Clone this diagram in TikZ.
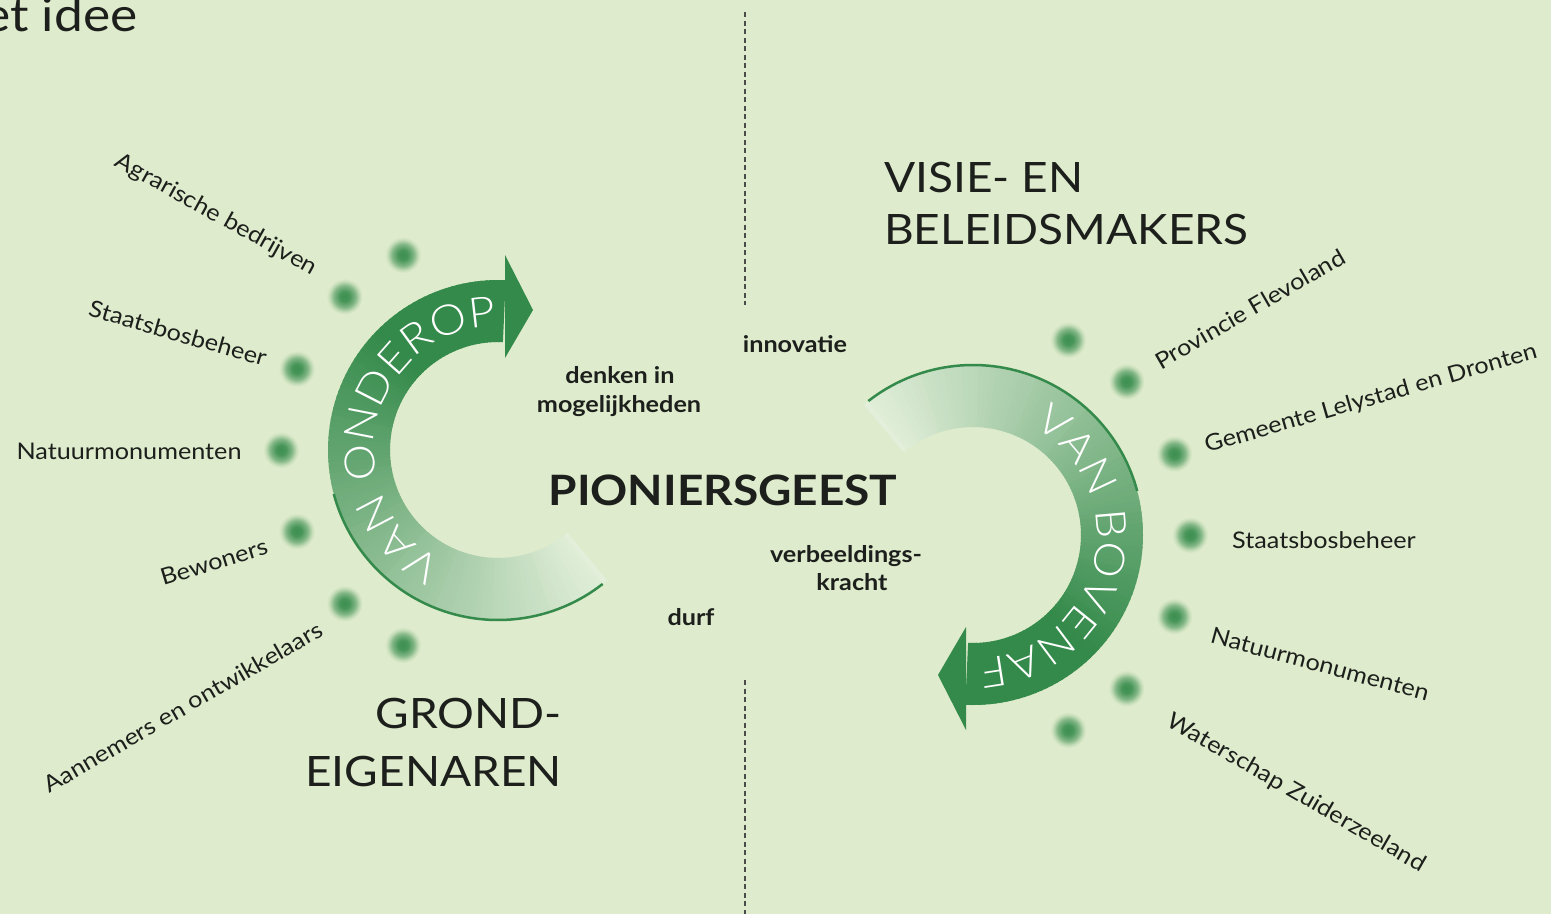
\documentclass[tikz,border=0pt]{standalone}
\usepackage{fontspec}
\setmainfont{Lato}[FakeStretch=1.1]
\newfontfamily\arcfont{Lato Light}[FakeStretch=1.1]
\usetikzlibrary{decorations.text}
\definecolor{bg}{RGB}{222,235,204}
\definecolor{bgl}{RGB}{234,243,224}
\definecolor{ag}{RGB}{52,138,74}
\definecolor{txt}{RGB}{28,31,27}
\pgfdeclareradialshading{blurdot}{\pgfpoint{0bp}{0bp}}{%
  color(0bp)=(ag!95!bg); color(7bp)=(ag!88!bg); color(15bp)=(ag!55!bg);
  color(21bp)=(ag!15!bg); color(25bp)=(bg); color(50bp)=(bg)}
\tikzset{
  lbl/.style={text=txt, inner sep=0pt, font=\fontsize{23}{27}\selectfont},
  kw/.style={text=txt, inner sep=0pt, font=\bfseries\fontsize{23}{27}\selectfont},
  ttl/.style={text=txt, inner sep=0pt, font=\fontsize{42}{48}\selectfont},
  sep/.style={draw=txt!80, line width=1.5bp, dash pattern=on 5bp off 3.5bp},
  gdot/.style={shading=blurdot},
  cyclearrow/.pic={
    \foreach \a in {50,52,...,270}{
      \pgfmathtruncatemacro\p{min(100,max(0,6+(\a-52)*0.55))}
      \pgfmathsetmacro\b{\a+2.6}
      \fill[ag!\p!bgl] (\a:170) arc[start angle=\a,end angle=\b,radius=170]
        -- (\b:108) arc[start angle=\b,end angle=\a,radius=108] -- cycle;
    }
    \fill[ag] (7,-195) -- (35,-140) -- (7,-92) -- cycle;
    \draw[ag, line width=2.5bp] (52:170) arc[start angle=52,end angle=165,radius=170];
    \path[decorate, decoration={text along path, text align=center,
      text={|\color{white}\arcfont\fontsize{42}{42}\selectfont|#1}}]
      (116:124) arc[start angle=116,end angle=270,radius=124];
    \foreach \t in {116,135,158,180,202,225,244}{
      \shade[gdot] (\t:217) circle[radius=18];
    }
  }
}
\begin{document}
\begin{tikzpicture}[x=1bp,y=-1bp]
\fill[bg] (0,0) rectangle (1551,914);
\useasboundingbox (0,0) rectangle (1551,914);
\coordinate (s1) at (745,12); \coordinate (s2) at (745,305);
\coordinate (s3) at (745,680); \coordinate (s4) at (745,914);
\draw[sep] (s1) -- (s2);
\draw[sep] (s3) -- (s4);
\pic (L) at (498,450) {cyclearrow=VAN ONDEROP};
\pic[rotate=180] (R) at (973,535) {cyclearrow=VAN BOVENAF};
% header
\node[ttl, font=\fontsize{47}{52}\selectfont, anchor=base west] (hdr) at (-17,31) {et idee};
% left labels
\node[lbl, rotate=-29] (l1) at (216,215) {Agrarische bedrijven};
\node[lbl, rotate=-16] (l2) at (178,333) {Staatsbosbeheer};
\node[lbl] (l3) at (129,451) {Natuurmonumenten};
\node[lbl, rotate=17] (l4) at (214,562) {Bewoners};
\node[lbl, rotate=30] (l5) at (183,707) {Aannemers en ontwikkelaars};
% right labels
\node[lbl, rotate=30] (r1) at (1250,309) {Provincie Flevoland};
\node[lbl, rotate=16] (r2) at (1371,399) {Gemeente Lelystad en Dronten};
\node[lbl] (r3) at (1324,540) {Staatsbosbeheer};
\node[lbl, rotate=-15] (r4) at (1320,664) {Natuurmonumenten};
\node[lbl, rotate=-30] (r5) at (1296,793) {Waterschap Zuiderzeeland};
% titles
\node[ttl, anchor=base west] (t1) at (884,192) {VISIE- EN};
\node[ttl, anchor=base west] (t2) at (884,244) {BELEIDSMAKERS};
\node[ttl, anchor=base east] (t3) at (562,728) {GROND-};
\node[ttl, anchor=base east] (t4) at (562,786) {EIGENAREN};
% centre words
\node[kw, anchor=base] (k1) at (795,352) {innovatie};
\node[kw, anchor=base] (k2) at (620,383) {denken in};
\node[kw, anchor=base] (k3) at (619,412) {mogelijkheden};
\node[text=txt, inner sep=0pt, font=\bfseries\fontsize{42}{46}\selectfont, anchor=base] (pg) at (723,505) {PIONIERSGEEST};
\node[kw, anchor=base] (k4) at (846,562) {verbeeldings-};
\node[kw, anchor=base] (k5) at (852,590) {kracht};
\node[kw, anchor=base] (k6) at (691,625) {durf};
\end{tikzpicture}
\end{document}
